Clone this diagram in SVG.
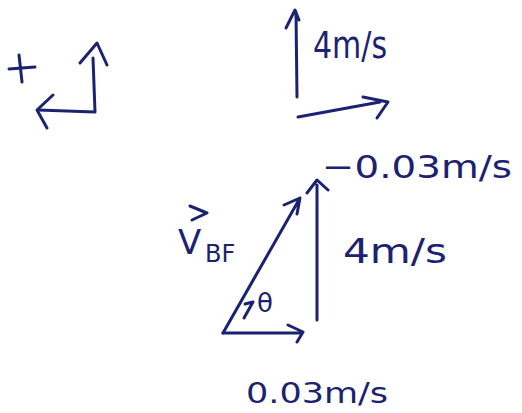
<svg xmlns="http://www.w3.org/2000/svg" width="522" height="413" viewBox="0 0 522 413">
<style>
.ink{fill:none;stroke:#1c2272;stroke-width:3;stroke-linecap:round;stroke-linejoin:round}
.t{fill:#1c2272;font-family:"DejaVu Sans","Liberation Sans",sans-serif}
</style>
<rect width="522" height="413" fill="#fff"/>
<g id="axes">
<path class="ink" d="M9,69 L35,67 M19,55 L22,82"/>
<path class="ink" d="M93,58 L95,112 L38,110"/>
<path class="ink" d="M80,63 L97,43 L107,65"/>
<path class="ink" d="M53,95 L37,110 L47,128"/>
</g>
<g id="top-vectors">
<path class="ink" d="M297,97 L296,12 M286,28 L295,10 L299,20"/>
<text class="t" x="313" y="58" font-size="38" textLength="74" lengthAdjust="spacingAndGlyphs">4m/s</text>
<path class="ink" d="M298,117 L380,102 M363,97 L388,102 L377,118"/>
<text class="t" x="322" y="178" font-size="32" textLength="190" lengthAdjust="spacingAndGlyphs">−0.03m/s</text>
</g>
<g id="triangle">
<path class="ink" d="M223,333 L300,198 M284,205 L300,198 L297,214"/>
<path class="ink" d="M317,320 L317,185 M307,193 L317,180 L328,190"/>
<path class="ink" d="M223,333 L300,333 M288,325 L303,332 L297,342"/>
<path class="ink" d="M245,304 L253,302 L244,318"/>
<text class="t" x="257" y="312" font-size="26">θ</text>
<text class="t" x="343" y="263" font-size="34" textLength="104" lengthAdjust="spacingAndGlyphs">4m/s</text>
<text class="t" x="246" y="403" font-size="28" textLength="142" lengthAdjust="spacingAndGlyphs">0.03m/s</text>
</g>
<g id="vbf-label">
<path class="ink" d="M190,206 L207,213 L192,220"/>
<text class="t" x="178" y="254" font-size="34">V</text>
<text class="t" x="205" y="262" font-size="24">BF</text>
</g>
</svg>
